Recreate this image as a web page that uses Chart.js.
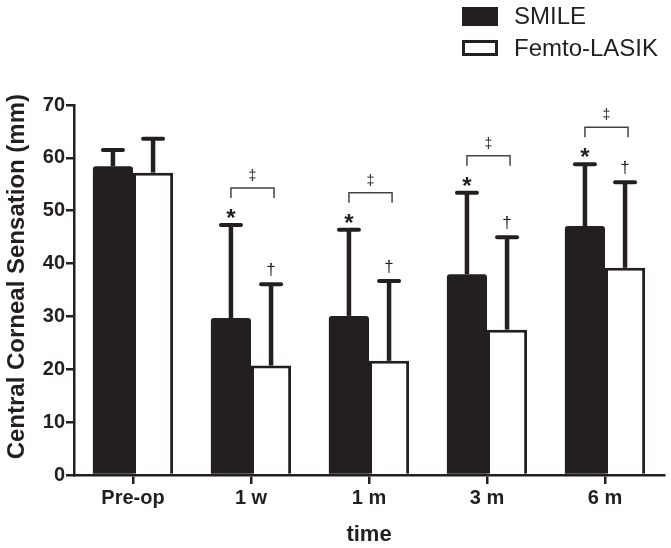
<!DOCTYPE html>
<html lang="en">
<head>
    <meta charset="UTF-8">
    <title>Central Corneal Sensation</title>
    <script src="https://cdn.jsdelivr.net/npm/chart.js"></script>
    <style>
        body, html {
            margin: 0;
            padding: 0;
            background: #fff;
        }
        #wrap {
            width: 671px;
            height: 548px;
        }
    </style>
</head>
<body>
<div id="wrap"><canvas id="sensationChart" width="671" height="548"></canvas></div>
<script>
    // values
    const categories = ['Pre-op', '1 w', '1 m', '3 m', '6 m'];
    const smileMean = [58.4, 29.7, 30.1, 38.0, 47.1];
    const smileSD = [3.1, 17.6, 16.3, 15.4, 11.7];
    const femtoMean = [57.2, 20.7, 21.6, 27.5, 39.2];
    const femtoSD = [6.4, 15.4, 15.1, 17.5, 16.2];
    const smileMarks = ['', '*', '*', '*', '*'];
    const femtoMarks = ['', '†', '†', '†', '†'];
    const pairMarks = ['', '‡', '‡', '‡', '‡'];
    const yTicks = [0, 10, 20, 30, 40, 50, 60, 70];

    const ink = '#231f20';
    const fam = '"Liberation Sans", Arial, Helvetica, sans-serif';
    const sds = [smileSD, femtoSD];

    // error bars (upper only) + significance symbols
    const errorBars = {
        id: 'errorBars',
        afterDatasetsDraw(chart) {
            const ctx = chart.ctx;
            const y = chart.scales.y;
            const tops = [[], []];
            ctx.save();
            ctx.strokeStyle = ink;
            chart.data.datasets.forEach((ds, i) => {
                const meta = chart.getDatasetMeta(i);
                meta.data.forEach((bar, j) => {
                    const top = y.getPixelForValue(ds.data[j] + sds[i][j]);
                    tops[i][j] = { x: bar.x, y: top };
                    ctx.lineWidth = 4.5;
                    ctx.lineCap = 'butt';
                    ctx.beginPath();
                    ctx.moveTo(bar.x, bar.y);
                    ctx.lineTo(bar.x, top);
                    ctx.stroke();
                    ctx.lineWidth = 4;
                    ctx.lineCap = 'round';
                    ctx.beginPath();
                    ctx.moveTo(bar.x - 10, top);
                    ctx.lineTo(bar.x + 10, top);
                    ctx.stroke();
                });
            });

            ctx.fillStyle = ink;
            ctx.textAlign = 'center';
            ctx.textBaseline = 'alphabetic';
            categories.forEach((c, j) => {
                const a = tops[0][j], b = tops[1][j];
                if (smileMarks[j]) {
                    ctx.font = 'bold 24px ' + fam;
                    ctx.fillText(smileMarks[j], a.x, a.y + 1);
                }
                if (femtoMarks[j]) {
                    ctx.font = '17px ' + fam;
                    ctx.fillText(femtoMarks[j], b.x, b.y - 9);
                }
                if (pairMarks[j]) {
                    const by = a.y - 37;
                    ctx.strokeStyle = '#444';
                    ctx.lineWidth = 1.5;
                    ctx.lineCap = 'butt';
                    ctx.beginPath();
                    ctx.moveTo(a.x, by + 10);
                    ctx.lineTo(a.x, by);
                    ctx.lineTo(b.x + 3, by);
                    ctx.lineTo(b.x + 3, by + 10);
                    ctx.stroke();
                    ctx.font = '14px ' + fam;
                    ctx.fillText(pairMarks[j], (a.x + b.x + 3) / 2, by - 8);
                }
            });
            ctx.restore();
        },
        afterDraw(chart) {
            // legend, stacked, top right
            const ctx = chart.ctx;
            const ds = chart.data.datasets;
            ctx.save();
            ctx.fillStyle = ds[0].backgroundColor;
            ctx.fillRect(462, 7, 36, 19);
            ctx.strokeStyle = ds[1].borderColor;
            ctx.lineWidth = 3;
            ctx.strokeRect(463.5, 41.5, 33, 13);
            ctx.fillStyle = ink;
            ctx.font = '24px ' + fam;
            ctx.textAlign = 'left';
            ctx.textBaseline = 'middle';
            ctx.fillText(ds[0].label, 514, 17);
            ctx.fillText(ds[1].label, 514, 49);
            ctx.restore();
        }
    };

    new Chart(document.getElementById('sensationChart'), {
        type: 'bar',
        data: {
            labels: categories,
            datasets: [{
                label: 'SMILE',
                data: smileMean,
                backgroundColor: ink,
                borderColor: ink,
                borderWidth: 0,
                borderRadius: { topLeft: 3, topRight: 3 },
                categoryPercentage: 0.68,
                barPercentage: 1.0
            }, {
                label: 'Femto-LASIK',
                data: femtoMean,
                backgroundColor: '#ffffff',
                borderColor: ink,
                borderWidth: 3,
                categoryPercentage: 0.68,
                barPercentage: 1.0
            }]
        },
        options: {
            responsive: false,
            animation: false,
            layout: { padding: { top: 105, right: 7, left: 0, bottom: 0 } },
            plugins: {
                legend: { display: false },
                tooltip: { enabled: false }
            },
            scales: {
                x: {
                    afterFit: s => { s.height = 73; },
                    grid: {
                        offset: false,
                        drawOnChartArea: false,
                        tickLength: 9,
                        color: ink,
                        lineWidth: 2.5
                    },
                    border: { display: true, color: ink, width: 2.5 },
                    ticks: {
                        color: ink,
                        padding: 2,
                        font: { family: fam, size: 20, weight: 'bold' }
                    },
                    title: {
                        display: true,
                        text: 'time',
                        color: ink,
                        padding: { top: 0, bottom: 0 },
                        font: { family: fam, size: 22, weight: 'bold' }
                    }
                },
                y: {
                    min: 0,
                    max: 70,
                    afterFit: s => { s.width = 74; },
                    afterBuildTicks: s => { s.ticks = yTicks.map(v => ({ value: v })); },
                    grid: {
                        drawOnChartArea: false,
                        tickLength: 8,
                        color: ink,
                        lineWidth: 2.5
                    },
                    border: { display: true, color: ink, width: 2.5 },
                    ticks: {
                        color: ink,
                        padding: 1,
                        font: { family: fam, size: 20, weight: 'bold' }
                    },
                    title: {
                        display: true,
                        // leading spaces nudge the label up like the original
                        text: '    Central Corneal Sensation (mm)',
                        color: ink,
                        padding: { top: 3, bottom: 0 },
                        font: { family: fam, size: 24, weight: 'bold' }
                    }
                }
            }
        },
        plugins: [errorBars]
    });
</script>
</body>
</html>
